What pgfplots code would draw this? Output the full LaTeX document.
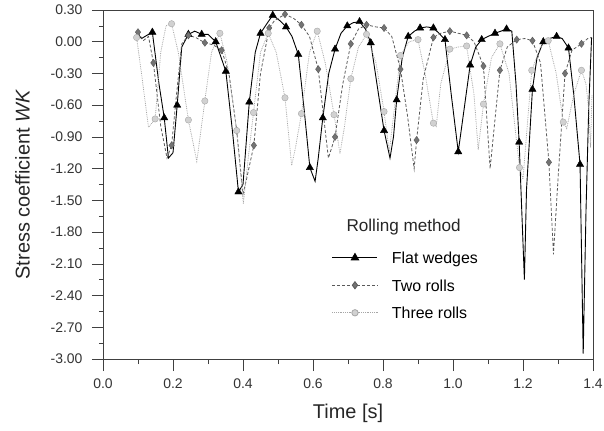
\documentclass[border=0pt]{standalone}
\usepackage{pgfplots}
\pgfplotsset{compat=1.18}
\usepackage{pgfplotstable}
\usepackage{fontspec}
\setmainfont{Liberation Sans}

\pgfplotstableread{
t v
0.096 0.09
0.110 0.03
0.125 0.06
0.141 0.09
0.160 -0.40
0.175 -0.72
0.187 -1.10
0.200 -1.05
0.212 -0.60
0.225 -0.05
0.244 0.07
0.262 0.10
0.282 0.07
0.300 0.07
0.322 0.00
0.351 -0.28
0.370 -0.85
0.387 -1.42
0.400 -1.35
0.418 -0.57
0.435 -0.10
0.450 0.08
0.470 0.18
0.485 0.25
0.505 0.20
0.523 0.14
0.540 0.05
0.558 -0.12
0.575 -0.65
0.591 -1.19
0.606 -1.32
0.615 -1.10
0.628 -0.72
0.645 -0.30
0.663 -0.07
0.680 0.08
0.698 0.15
0.715 0.18
0.733 0.19
0.750 0.12
0.765 -0.01
0.785 -0.45
0.803 -0.84
0.820 -1.10
0.830 -0.90
0.839 -0.55
0.855 -0.15
0.872 0.05
0.890 0.10
0.906 0.13
0.925 0.14
0.944 0.13
0.960 0.08
0.977 0.02
0.995 -0.50
1.015 -1.04
1.025 -0.80
1.049 -0.22
1.065 -0.05
1.082 0.02
1.100 0.05
1.120 0.08
1.137 0.10
1.153 0.12
1.168 0.10
1.180 -0.40
1.189 -0.95
1.204 -2.25
1.210 -1.40
1.227 -0.45
1.240 -0.15
1.258 0.00
1.275 0.03
1.296 0.05
1.312 0.03
1.330 -0.06
1.345 -0.50
1.363 -1.16
1.372 -2.95
1.380 -1.60
1.388 -0.60
1.396 0.04
}\flatline

\pgfplotstableread{
t v
0.141 0.09
0.175 -0.72
0.212 -0.60
0.244 0.07
0.282 0.07
0.322 0.00
0.351 -0.28
0.387 -1.42
0.418 -0.57
0.450 0.08
0.485 0.25
0.523 0.14
0.558 -0.12
0.591 -1.19
0.628 -0.72
0.663 -0.07
0.698 0.15
0.733 0.19
0.765 -0.01
0.803 -0.84
0.839 -0.55
0.872 0.05
0.906 0.13
0.944 0.13
0.977 0.02
1.015 -1.04
1.049 -0.22
1.082 0.02
1.120 0.08
1.153 0.12
1.189 -0.95
1.227 -0.45
1.258 0.00
1.296 0.05
1.330 -0.06
1.363 -1.16
}\flatmarks

\pgfplotstableread{
t v
0.100 0.09
0.115 0.01
0.130 0.05
0.144 -0.20
0.165 -0.80
0.183 -1.10
0.196 -0.98
0.210 -0.50
0.225 -0.02
0.244 0.06
0.265 0.04
0.291 -0.01
0.315 -0.03
0.339 -0.08
0.360 -0.30
0.382 -0.84
0.400 -1.44
0.410 -1.30
0.431 -0.98
0.450 -0.30
0.475 0.13
0.490 0.20
0.520 0.26
0.545 0.22
0.567 0.16
0.590 0.05
0.615 -0.26
0.630 -0.70
0.644 -1.10
0.663 -0.90
0.685 -0.40
0.708 -0.02
0.730 0.12
0.753 0.16
0.780 0.14
0.803 0.13
0.825 0.05
0.850 -0.26
0.870 -0.70
0.889 -1.20
0.896 -0.93
0.915 -0.35
0.944 0.04
0.965 0.08
0.991 0.10
1.015 0.08
1.039 0.06
1.060 0.00
1.087 -0.23
1.106 -1.20
1.115 -0.90
1.134 -0.27
1.155 -0.05
1.182 0.02
1.205 0.03
1.227 0.01
1.250 -0.20
1.274 -1.14
1.287 -2.01
1.300 -1.30
1.320 -0.30
1.340 -0.08
1.367 -0.02
1.385 0.03
1.396 0.04
}\twoline

\pgfplotstableread{
t v
0.100 0.09
0.144 -0.20
0.196 -0.98
0.244 0.06
0.291 -0.01
0.339 -0.08
0.382 -0.84
0.431 -0.98
0.475 0.13
0.520 0.26
0.567 0.16
0.615 -0.26
0.663 -0.90
0.708 -0.02
0.753 0.16
0.803 0.13
0.850 -0.26
0.896 -0.93
0.944 0.04
0.991 0.10
1.039 0.06
1.087 -0.23
1.134 -0.27
1.182 0.02
1.227 0.01
1.274 -1.14
1.320 -0.30
1.367 -0.02
}\twomarks

\pgfplotstableread{
t v
0.096 0.04
0.110 -0.30
0.130 -0.81
0.149 -0.73
0.165 -0.10
0.180 0.15
0.196 0.17
0.215 -0.10
0.244 -0.74
0.268 -1.13
0.291 -0.56
0.310 -0.10
0.334 0.08
0.355 -0.20
0.382 -0.84
0.401 -1.53
0.415 -1.10
0.430 -0.67
0.450 -0.10
0.472 0.08
0.495 -0.10
0.520 -0.53
0.539 -1.17
0.550 -1.00
0.567 -0.68
0.590 -0.10
0.612 0.10
0.635 -0.20
0.660 -0.69
0.677 -1.06
0.690 -0.80
0.708 -0.35
0.730 -0.05
0.753 0.07
0.780 -0.20
0.803 -0.66
0.818 -1.04
0.830 -0.70
0.850 -0.13
0.875 0.00
0.900 0.02
0.920 -0.30
0.944 -0.77
0.952 -0.80
0.965 -0.40
0.991 -0.07
1.015 -0.05
1.039 -0.04
1.060 -0.50
1.072 -1.02
1.087 -0.59
1.110 -0.15
1.134 -0.02
1.160 -0.30
1.190 -1.19
1.200 -1.30
1.212 -0.80
1.225 -0.27
1.250 -0.05
1.272 0.01
1.295 -0.30
1.315 -0.76
1.325 -0.82
1.345 -0.50
1.367 -0.27
1.380 -0.40
1.388 -0.65
1.393 -1.00
1.397 -0.50
}\threeline

\pgfplotstableread{
t v
0.096 0.04
0.149 -0.73
0.196 0.17
0.244 -0.74
0.291 -0.56
0.334 0.08
0.382 -0.84
0.430 -0.67
0.472 0.08
0.520 -0.53
0.567 -0.68
0.612 0.10
0.660 -0.69
0.708 -0.35
0.753 0.07
0.803 -0.66
0.850 -0.13
0.900 0.02
0.944 -0.77
0.991 -0.07
1.039 -0.04
1.087 -0.59
1.134 -0.02
1.190 -1.19
1.225 -0.27
1.272 0.01
1.315 -0.76
1.367 -0.27
}\threemarks

\definecolor{tworoll}{gray}{0.35}
\definecolor{tworollfill}{gray}{0.45}
\definecolor{threeroll}{gray}{0.65}
\definecolor{threerollfill}{gray}{0.82}

\begin{document}
\begin{tikzpicture}
\begin{axis}[
  scale only axis,
  width=490bp, height=349bp,
  xmin=0, xmax=1.4, ymin=-3.0, ymax=0.3,
  xtick={0,0.2,...,1.4},
  ytick={-3.0,-2.7,...,0.31},
  minor x tick num=1,
  minor y tick num=1,
  tick align=outside,
  xtick pos=bottom, ytick pos=left,
  axis line style={black!75, line width=0.5pt},
  major tick style={black!75, line width=0.5pt},
  minor tick style={black!75, line width=0.5pt},
  major tick length=11bp,
  minor tick length=4bp,
  xtick style={/pgfplots/major tick length=12bp, /pgfplots/minor tick length=5bp},
  /pgf/number format/assume math mode=true,
  xticklabel={\pgfmathprintnumber[fixed,precision=1,zerofill]{\tick}},
  yticklabel={\pgfmathprintnumber[fixed,precision=2,zerofill]{\tick}},
  ticklabel style={font=\fontsize{14}{16}\selectfont, black!80},
  yticklabel style={xshift=-6bp},
  xticklabel style={yshift=-5bp},
  xlabel={Time [s]},
  ylabel={Stress coefficient \textit{WK}},
  label style={font=\fontsize{20}{23}\selectfont, black!85},
  xlabel shift=9bp,
  ylabel shift=14bp,
  clip=true,
  legend style={draw=none, fill=none, at={(0.467,0.313)}, anchor=north west,
    font=\fontsize{16}{18}\selectfont, row sep=12bp, inner sep=0pt,
    nodes={inner sep=2pt, text depth=0pt}},
  legend cell align=left,
  legend image code/.code={%
    \draw[#1] (0bp,0bp) -- (45bp,0bp);
    \draw[#1, solid] plot coordinates {(22.5bp,0bp)};},
]
\addplot[black, line width=0.9pt, forget plot] table[x=t,y=v]{\flatline};
\addplot[tworoll, line width=0.8pt, densely dashed, forget plot] table[x=t,y=v]{\twoline};
\addplot[threeroll, line width=0.8pt, densely dotted, forget plot] table[x=t,y=v]{\threeline};
\addplot[only marks, mark=triangle*, mark size=4.2bp, black, forget plot] table[x=t,y=v]{\flatmarks};
\addplot[only marks, mark=diamond*, mark size=3.6bp, draw=tworoll, fill=tworollfill, forget plot] table[x=t,y=v]{\twomarks};
\addplot[only marks, mark=*, mark size=3.2bp, draw=threeroll, fill=threerollfill, forget plot] table[x=t,y=v]{\threemarks};

\addlegendimage{black, line width=0.9pt, mark=triangle*, mark size=4.2bp, mark options={solid}}
\addlegendentry{\hspace{12bp}Flat wedges}
\addlegendimage{tworoll, line width=0.8pt, densely dashed, mark=diamond*, mark size=3.6bp, mark options={solid, draw=tworoll, fill=tworollfill}}
\addlegendentry{\hspace{12bp}Two rolls}
\addlegendimage{threeroll, line width=0.8pt, densely dotted, mark=*, mark size=3.2bp, mark options={solid, draw=threeroll, fill=threerollfill}}
\addlegendentry{\hspace{12bp}Three rolls}

\node[font=\fontsize{17.2}{20}\selectfont, black!85] at (axis cs:0.859,-1.752) {Rolling method};
\end{axis}
\pgfresetboundingbox
\path[use as bounding box] ([xshift=-103bp,yshift=-72bp]current axis.south west) rectangle ([xshift=11bp,yshift=10bp]current axis.north east);
\end{tikzpicture}
\end{document}
